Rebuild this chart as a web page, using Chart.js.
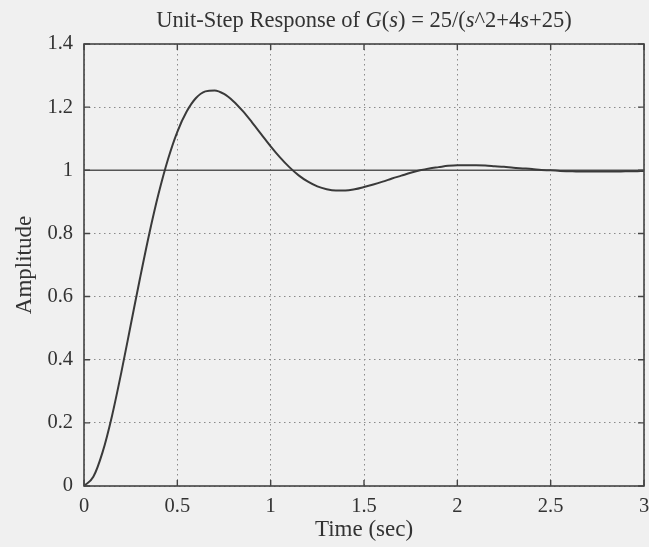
<!DOCTYPE html>
<html>
<head>
<meta charset="utf-8">
<script src="https://cdn.jsdelivr.net/npm/chart.js@4.4.1/dist/chart.umd.min.js"></script>
<style>
  html, body { margin: 0; padding: 0; background: #f0f0f0; }
  #wrap { width: 649px; height: 547px; position: relative; }
</style>
</head>
<body>
<div id="wrap"><canvas id="c" width="649" height="547"></canvas></div>
<script>
// ---- data ----
const times = [0,0.05,0.1,0.15,0.2,0.25,0.3,0.35,0.4,0.45,0.5,0.55,0.6,0.65,0.7,0.75,0.8,0.85,0.9,0.95,
  1,1.05,1.1,1.15,1.2,1.25,1.3,1.35,1.4,1.45,1.5,1.55,1.6,1.65,1.7,1.75,1.8,1.85,1.9,1.95,
  2,2.05,2.1,2.15,2.2,2.25,2.3,2.35,2.4,2.45,2.5,2.55,2.6,2.65,2.7,2.75,2.8,2.85,2.9,2.95,3];
const amplitude = [0,0.029,0.108,0.222,0.360,0.509,0.658,0.800,0.927,1.035,1.122,1.186,1.229,1.250,1.253,1.242,1.219,1.188,1.152,1.114,
  1.076,1.041,1.010,0.984,0.964,0.949,0.940,0.936,0.936,0.940,0.947,0.955,0.964,0.974,0.983,0.992,1.000,1.006,1.010,1.014,
  1.016,1.016,1.016,1.015,1.013,1.011,1.008,1.006,1.004,1.001,1.000,0.998,0.997,0.996,0.996,0.996,0.996,0.996,0.997,0.997,0.998];
const refTimes = [0, 3];
const refLevel = [1, 1];
const xTicks = [0, 0.5, 1, 1.5, 2, 2.5, 3];
const xTickLabels = ['0', '0.5', '1', '1.5', '2', '2.5', '3'];
const yTicks = [0, 0.2, 0.4, 0.6, 0.8, 1, 1.2, 1.4];
const yTickLabels = ['0', '0.2', '0.4', '0.6', '0.8', '1', '1.2', '1.4'];
const titleParts = [['Unit-Step Response of ', false], ['G', true], ['(', false], ['s', true], [') = 25/(', false], ['s', true], ['^2+4', false], ['s', true], ['+25)', false]];
const xTitle = 'Time (sec)';
const yTitle = 'Amplitude';

const FONT = "'Liberation Serif', 'Times New Roman', serif";
const TEXT = '#333333';

const framePlugin = {
  id: 'frame',
  afterDatasetsDraw(chart) {
    const { ctx, chartArea: a, scales } = chart;
    ctx.save();
    ctx.strokeStyle = '#444444';
    ctx.lineWidth = 1.6;
    ctx.setLineDash([]);
    ctx.strokeRect(a.left, a.top, a.right - a.left, a.bottom - a.top);
    const L = 6;
    ctx.lineWidth = 1.4;
    ctx.beginPath();
    scales.x.ticks.forEach(t => {
      const px = scales.x.getPixelForValue(t.value);
      ctx.moveTo(px, a.bottom); ctx.lineTo(px, a.bottom - L);
      ctx.moveTo(px, a.top); ctx.lineTo(px, a.top + L);
    });
    scales.y.ticks.forEach(t => {
      const py = scales.y.getPixelForValue(t.value);
      ctx.moveTo(a.left, py); ctx.lineTo(a.left + L, py);
      ctx.moveTo(a.right, py); ctx.lineTo(a.right - L, py);
    });
    ctx.stroke();
    ctx.restore();
  }
};

const titlePlugin = {
  id: 'mixedTitle',
  afterDraw(chart) {
    const { ctx, chartArea: a } = chart;
    ctx.save();
    ctx.fillStyle = TEXT;
    ctx.textBaseline = 'middle';
    const size = 22.5;
    const fontFor = it => (it ? 'italic ' : '') + size + 'px ' + FONT;
    let total = 0;
    titleParts.forEach(([s, it]) => { ctx.font = fontFor(it); total += ctx.measureText(s).width; });
    let x = (a.left + a.right) / 2 - total / 2;
    const y = 21;
    titleParts.forEach(([s, it]) => {
      ctx.font = fontFor(it);
      ctx.fillText(s, x, y);
      x += ctx.measureText(s).width;
    });
    ctx.restore();
  }
};

new Chart(document.getElementById('c'), {
  type: 'line',
  data: {
    datasets: [
      {
        data: times.map((t, i) => ({ x: t, y: amplitude[i] })),
        borderColor: '#3a3a3a',
        borderWidth: 2,
        pointRadius: 0,
        cubicInterpolationMode: 'monotone',
        fill: false
      },
      {
        data: refTimes.map((t, i) => ({ x: t, y: refLevel[i] })),
        borderColor: '#555555',
        borderWidth: 1.6,
        pointRadius: 0,
        fill: false
      }
    ]
  },
  options: {
    responsive: false,
    animation: false,
    devicePixelRatio: 1,
    layout: { padding: { top: 44, right: 5, left: 0, bottom: 0 } },
    plugins: { legend: { display: false }, tooltip: { enabled: false }, title: { display: false } },
    scales: {
      x: {
        type: 'linear',
        min: 0, max: 3,
        afterFit(s) { s.height = 61; s.paddingLeft = 0; s.paddingRight = 0; },
        afterBuildTicks(s) { s.ticks = xTicks.map(v => ({ value: v })); },
        ticks: {
          padding: 8,
          color: TEXT,
          font: { family: FONT, size: 20.5 },
          maxRotation: 0,
          autoSkip: false,
          callback: (v) => xTickLabels[xTicks.indexOf(v)]
        },
        grid: { color: '#8a8a8a', lineWidth: 1, drawTicks: false },
        border: { display: false, dash: [1.5, 3.5] },
        title: { display: true, text: xTitle, color: TEXT, font: { family: FONT, size: 23 }, padding: { top: 0, bottom: 3 } }
      },
      y: {
        type: 'linear',
        min: 0, max: 1.4,
        afterFit(s) { s.width = 84; s.paddingTop = 0; s.paddingBottom = 0; },
        afterBuildTicks(s) { s.ticks = yTicks.map(v => ({ value: v })); },
        ticks: {
          padding: 11,
          color: TEXT,
          font: { family: FONT, size: 20.5 },
          autoSkip: false,
          callback: (v) => yTickLabels[yTicks.indexOf(v)]
        },
        grid: { color: '#8a8a8a', lineWidth: 1, drawTicks: false },
        border: { display: false, dash: [1.5, 3.5] },
        title: { display: true, text: yTitle, color: TEXT, font: { family: FONT, size: 23 }, padding: { top: 11, bottom: 0 } }
      }
    }
  },
  plugins: [framePlugin, titlePlugin]
});
</script>
</body>
</html>
